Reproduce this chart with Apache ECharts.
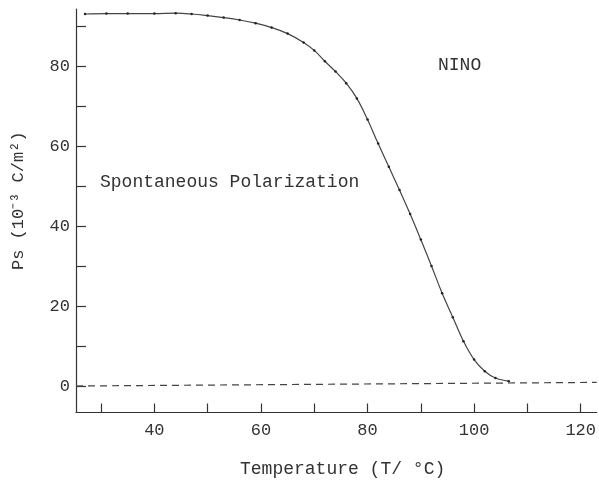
<!DOCTYPE html>
<html>
<head>
<meta charset="utf-8">
<script src="https://cdn.jsdelivr.net/npm/echarts@6/dist/echarts.min.js"></script>
<style>
  html, body { margin: 0; padding: 0; background: #fff; }
  #chart { width: 599px; height: 481px; }
</style>
</head>
<body>
<div id="chart"></div>
<script>
// measured Ps vs temperature (NINO)
const temps = [27, 31, 35, 40, 44, 47, 50, 53, 56, 59, 62, 65, 68, 70, 72, 74, 76, 78, 80, 82, 84, 86, 88, 90, 92, 94, 96, 98, 100, 102, 104, 106.5]
const ps = [93.0, 93.1, 93.1, 93.1, 93.2, 93.0, 92.6, 92.1, 91.5, 90.7, 89.6, 88.1, 85.9, 83.9, 81.2, 78.6, 75.7, 71.9, 66.6, 60.6, 54.8, 49.0, 43.0, 36.6, 30.0, 23.2, 17.2, 11.2, 6.6, 3.7, 2.0, 1.2]

// dashed baseline
const baseT = [25.3, 123]
const baseP = [0, 0.9]

const xTicks = [30, 40, 50, 60, 70, 80, 90, 100, 110, 120]
const xLabels = [40, 60, 80, 100, 120]
const yTicks = [0, 10, 20, 30, 40, 50, 60, 70, 80, 90]
const yLabels = [0, 20, 40, 60, 80]

const font = 'Liberation Mono'
const ink = '#333'

const chart = echarts.init(document.getElementById('chart'))

const option = {
  backgroundColor: '#fff',
  animation: false,
  grid: {
    left: 76,
    top: 9,
    width: 522,
    height: 403.5,
  },
  xAxis: {
    type: 'value',
    min: 25.3,
    max: 123,
    axisLine: { onZero: false, lineStyle: { color: ink, width: 1.2 } },
    axisTick: { inside: true, length: 9, customValues: xTicks, lineStyle: { color: ink, width: 1.2 } },
    axisLabel: { customValues: xLabels, margin: 9, fontFamily: font, fontSize: 17, color: ink },
    splitLine: { show: false },
  },
  yAxis: {
    type: 'value',
    min: -6.625,
    max: 94.25,
    axisLine: { show: true, onZero: false, lineStyle: { color: ink, width: 1.2 } },
    axisTick: { show: true, inside: true, length: 10, customValues: yTicks, lineStyle: { color: ink, width: 1.2 } },
    axisLabel: { customValues: yLabels, margin: 6, fontFamily: font, fontSize: 17, color: ink },
    splitLine: { show: false },
  },
  graphic: [
    {
      type: 'text', left: 438, top: 56,
      style: { text: 'NINO', font: '18px "Liberation Mono"', fill: ink },
    },
    {
      type: 'text', left: 100, top: 173,
      style: { text: 'Spontaneous Polarization', font: '18px "Liberation Mono"', fill: ink },
    },
    {
      type: 'text', left: 240, top: 460,
      style: { text: 'Temperature (T/ °C)', font: '18px "Liberation Mono"', fill: ink },
    },
    {
      type: 'text', x: 10, y: 270, rotation: Math.PI / 2,
      style: { text: 'Ps (10⁻³ C/m²)', font: '17px "Liberation Mono"', fill: ink },
    },
  ],
  series: [
    {
      name: 'baseline',
      type: 'line',
      data: baseT.map((t, i) => [t, baseP[i]]),
      showSymbol: false,
      lineStyle: { color: '#444', width: 1.2, type: [7, 5] },
    },
    {
      name: 'Ps',
      type: 'line',
      data: temps.map((t, i) => [t, ps[i]]),
      smooth: 0.4,
      symbol: 'circle',
      symbolSize: 2.5,
      itemStyle: { color: '#222' },
      lineStyle: { color: '#444', width: 1.2 },
    },
  ],
}

chart.setOption(option)
</script>
</body>
</html>
